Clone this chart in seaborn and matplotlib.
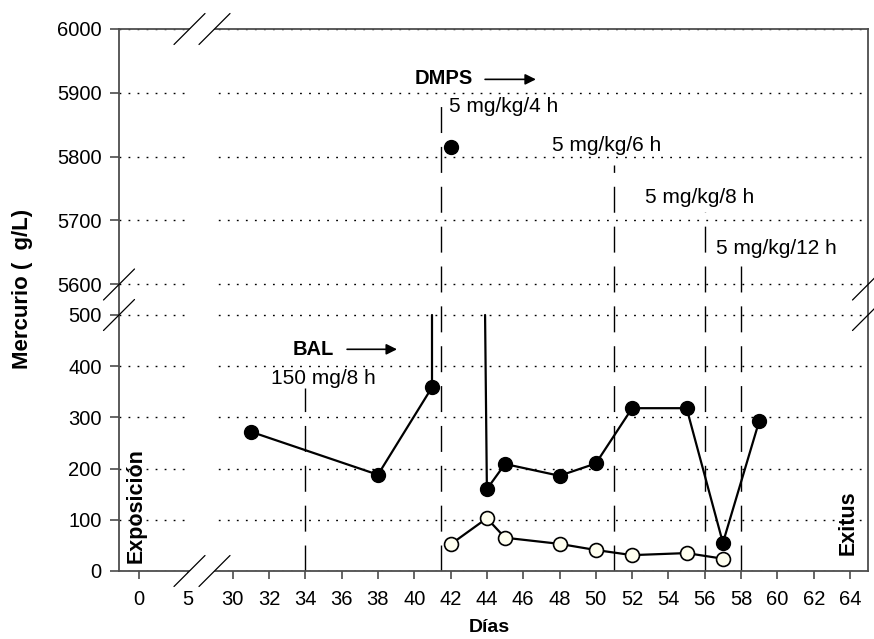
import numpy as np
import pandas as pd
import seaborn as sns
import matplotlib.pyplot as plt
from matplotlib.patches import Polygon

# mercurio total (circulos negros)
dias_total = [31, 38, 41, 44, 45, 48, 50, 52, 55, 57, 59]
hg_total = [272, 188, 360, 160, 209, 186, 210, 318, 318, 55, 293]
tramo_total = [0, 0, 0, 1, 1, 1, 1, 1, 1, 1, 1]

# pico fuera de escala
dia_pico = [42]
hg_pico = [5815]

# segundo grupo (circulos blancos)
dias_libre = [42, 44, 45, 48, 50, 52, 55, 57]
hg_libre = [52, 103, 65, 53, 41, 31, 35, 24]

# tramos que cruzan el corte del eje (hasta 500)
corte_x = [41, 41, 43.9, 44]
corte_y = [360, 500, 500, 160]
corte_tramo = [0, 0, 1, 1]

# cambios de pauta
dosis_x = [34, 41.5, 51, 56, 58]
dosis_top = [357, 5889, 5787, 5713, 5635]
dosis_txt = ["150 mg/8 h", "5 mg/kg/4 h", "5 mg/kg/6 h", "5 mg/kg/8 h", "5 mg/kg/12 h"]
dosis_tx = [32.1, 41.9, 47.6, 52.7, 56.6]
dosis_ty = [376, 5878, 5818, 5735, 5656]

x_ticks = [0, 5] + list(range(30, 65, 2))
y_ticks = [0, 100, 200, 300, 400, 500, 5600, 5700, 5800, 5900, 6000]

# escalas partidas (dias 0-5 comprimidos, hueco 500-5600)
X_D = np.array([-100, 0, 5, 30, 100.0])
X_U = np.array([139 - 980, 139, 188, 232.7, 232.7 + 70 * 18.156])
Y_V = np.array([-1e4, 0, 500, 5600, 6000, 1e5])
Y_U = np.array([-1e4 * 0.512, 0, 256, 287, 542, 542 + 94000 * 0.6375])


def fx(d):
    return np.interp(d, X_D, X_U)


def ix(u):
    return np.interp(u, X_U, X_D)


def fy(v):
    return np.interp(v, Y_V, Y_U)


def iy(u):
    return np.interp(u, Y_U, Y_V)


sns.set_theme(style="white")
plt.rcParams['font.family'] = ['Liberation Sans', 'DejaVu Sans']
plt.rcParams['text.color'] = 'black'
plt.rcParams['axes.labelcolor'] = 'black'

fig = plt.figure(figsize=(8.74, 6.39), dpi=100)
ax = fig.add_axes([119 / 874, 1 - 571 / 639, 749 / 874, 542 / 639])
ax.set_xscale('function', functions=(fx, ix))
ax.set_yscale('function', functions=(fy, iy))
ax.set_xlim(ix(119), ix(868))
ax.set_ylim(0, 6000)

ax.set_xticks(x_ticks)
ax.set_xticklabels([str(t) for t in x_ticks])
ax.set_yticks(y_ticks)
ax.set_yticklabels([str(t) for t in y_ticks])
ax.xaxis.get_major_ticks()[1].tick1line.set_visible(False)
ax.tick_params(axis='both', which='major', labelsize=14.5, width=1.1,
               color='#3c3c3c', labelcolor='black', left=True, bottom=True)
ax.tick_params(axis='x', length=6, pad=8)
ax.tick_params(axis='y', length=6.5, pad=6)

for s in ax.spines.values():
    s.set_color('#4d4d4d')
    s.set_linewidth(1.3)

ax.set_axisbelow(True)
ax.yaxis.grid(True, color='black', linestyle=(0, (1.3, 5.2)), linewidth=1.0)
ax.xaxis.grid(False)
ax.axvspan(ix(187), ix(213), color='white', zorder=1.2, lw=0)

# lineas de pauta
for x, top in zip(dosis_x, dosis_top):
    ax.plot([x, x], [0, top], color='black', lw=1.0, linestyle=(0, (18.7, 10)), zorder=2)
for t, x, y in zip(dosis_txt, dosis_tx, dosis_ty):
    ax.text(x, y, t, fontsize=15, ha='left', va='center')

df_total = pd.DataFrame({'dia': dias_total, 'hg': hg_total, 'tramo': tramo_total})
df_corte = pd.DataFrame({'dia': corte_x, 'hg': corte_y, 'tramo': corte_tramo})
df_libre = pd.DataFrame({'dia': dias_libre, 'hg': hg_libre})

sns.lineplot(data=df_total, x='dia', y='hg', units='tramo', estimator=None,
             color='black', lw=1.6, ax=ax, zorder=3)
sns.lineplot(data=df_corte, x='dia', y='hg', units='tramo', estimator=None,
             color='black', lw=1.6, ax=ax, zorder=3, sort=False)
sns.lineplot(data=df_libre, x='dia', y='hg', color='black', lw=1.6, ax=ax, zorder=3)
sns.scatterplot(x=dias_total, y=hg_total, s=100, color='black', edgecolor='black',
                linewidth=1, ax=ax, zorder=4)
sns.scatterplot(x=dia_pico, y=hg_pico, s=100, color='black', edgecolor='black',
                linewidth=1, ax=ax, zorder=4)
sns.scatterplot(x=dias_libre, y=hg_libre, s=100, color='#fffff0', edgecolor='black',
                linewidth=1.2, ax=ax, zorder=4)

# flechas de tratamiento
ax.text(33.3, 432, "BAL", fontsize=14.5, fontweight='bold', ha='left', va='center')
ax.annotate('', xy=(39.05, 433), xytext=(36.3, 433),
            arrowprops=dict(arrowstyle='-|>', color='black', lw=1.2,
                            mutation_scale=16, shrinkA=0, shrinkB=0))
ax.text(40.0, 5922, "DMPS", fontsize=14.5, fontweight='bold', ha='left', va='center')
ax.annotate('', xy=(46.7, 5921), xytext=(43.9, 5921),
            arrowprops=dict(arrowstyle='-|>', color='black', lw=1.2,
                            mutation_scale=16, shrinkA=0, shrinkB=0))

ax.text(ix(136), 16, "Exposición", fontsize=15.5, fontweight='bold',
        rotation=90, ha='center', va='bottom')
ax.text(ix(848), 31, "Exitus", fontsize=15.5, fontweight='bold',
        rotation=90, ha='center', va='bottom')

ax.set_xlabel("Días", fontsize=14, fontweight='bold')
ax.set_ylabel("Mercurio (  g/L)", fontsize=16, fontweight='bold')
ax.xaxis.set_label_coords((489 - 119) / 749, (571 - 627) / 542)
ax.xaxis.label.set_va('center')
ax.yaxis.set_label_coords((22 - 119) / 749, (571 - 289) / 542)
ax.yaxis.label.set_va('center')

# marcas de corte
W, H = 749.0, 542.0
dx, dy = 15.5 / W, 15.5 / H
for yc in (0.0, 1.0):
    c1, c2 = (189.5 - 119) / W, (214.5 - 119) / W
    ax.add_patch(Polygon([(c1 - dx, yc - dy), (c1 + dx, yc + dy), (c2 + dx, yc + dy),
                          (c2 - dx, yc - dy)], closed=True, transform=ax.transAxes,
                         facecolor='white', edgecolor='none', clip_on=False, zorder=5))
    for c in (c1, c2):
        ax.plot([c - dx, c + dx], [yc - dy, yc + dy], transform=ax.transAxes,
                color='black', lw=0.9, clip_on=False, zorder=6)
for xc in (0.0, 1.0):
    for yc in ((571 - 284.5) / H, (571 - 315) / H):
        ax.plot([xc - dx, xc + dx], [yc - dy, yc + dy], transform=ax.transAxes,
                color='black', lw=0.9, clip_on=False, zorder=6)

fig.savefig('out.png', dpi=100)
